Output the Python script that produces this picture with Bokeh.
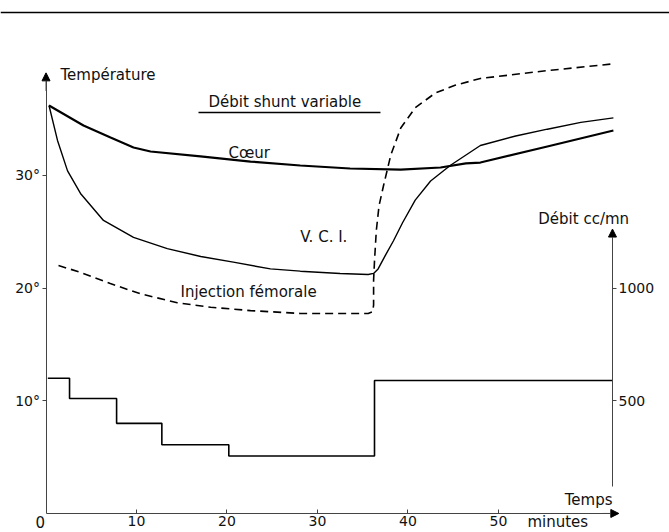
from bokeh.plotting import figure
from bokeh.models import LinearAxis, Range1d, FixedTicker, Arrow, NormalHead, Span
from bokeh.core.properties import value
from bokeh.embed import file_html
from bokeh.resources import INLINE

# ---- data (minutes, degrees) ----
coeur_x = [0.33, 4.14, 7.13, 9.67, 11.55, 17.07, 22.6, 28.1, 33.6, 39.2, 43.6, 46.4, 48.0, 55.4, 62.7]
coeur_y = [36.2, 34.43, 33.36, 32.48, 32.12, 31.68, 31.23, 30.88, 30.61, 30.52, 30.70, 31.06, 31.14, 32.56, 33.98]

vci_x = [0.33, 1.27, 2.38, 3.81, 6.35, 9.67, 13.4, 17.1, 20.7, 24.8, 28.1, 32.5, 35.6, 36.2, 36.7,
         37.5, 38.4, 39.4, 40.8, 42.5, 44.7, 48.0, 51.9, 55.4, 59.1, 62.7]
vci_y = [36.2, 33.1, 30.4, 28.4, 26.0, 24.5, 23.5, 22.8, 22.3, 21.7, 21.5, 21.3, 21.2, 21.3, 21.7,
         22.9, 24.2, 25.8, 27.8, 29.5, 30.9, 32.65, 33.5, 34.1, 34.7, 35.1]

inj_x = [1.38, 3.8, 7.1, 10.4, 14.5, 18.2, 22.6, 28.1, 35.6, 36.1, 36.2, 36.2, 36.3, 36.5, 36.8,
         37.3, 38.1, 39.2, 40.8, 43.0, 45.2, 48.0, 55.4, 62.7]
inj_y = [22.0, 21.4, 20.4, 19.5, 18.7, 18.3, 18.0, 17.75, 17.75, 17.9, 18.5, 20.7, 22.4, 25.1, 27.3,
         29.1, 31.8, 34.2, 36.0, 37.3, 38.0, 38.6, 39.3, 39.9]

# flow (cc/mn), step function
debit_edges = [0.2, 2.6, 7.8, 12.8, 20.2, 36.3, 62.6]
debit_levels = [600, 510, 400, 305, 255, 590]

temp_ticks = [10, 20, 30]
temp_labels = ["10°", "20°", "30°"]
time_ticks = [10, 20, 30, 40, 50]
debit_ticks = [500, 1000]

FONT_NAME = "DejaVu Sans"
FONT = value(FONT_NAME)
FS = "15px"
INK = "#111111"
AX = "#444444"

p = figure(width=669, height=532,
           x_range=Range1d(-5.03, 68.90), y_range=Range1d(-1.69, 45.52),
           output_backend="svg", toolbar_location=None,
           x_axis_location=None, y_axis_location=None,
           min_border=0, min_border_left=0, min_border_right=0,
           min_border_top=0, min_border_bottom=0,
           outline_line_color=None, background_fill_color="white",
           border_fill_color="white")
p.xgrid.visible = False
p.ygrid.visible = False
p.extra_y_ranges = {"debit": Range1d(-84.3, 2276.0)}

# ---- axes ----
left = LinearAxis(fixed_location=0, bounds=(0, 38.4),
                  ticker=FixedTicker(ticks=temp_ticks),
                  major_label_overrides=dict(zip(temp_ticks, temp_labels)))
bottom = LinearAxis(fixed_location=0, bounds=(0, 62.6),
                    ticker=FixedTicker(ticks=time_ticks))
right = LinearAxis(y_range_name="debit", fixed_location=62.6, bounds=(120, 1220),
                   ticker=FixedTicker(ticks=debit_ticks))
for ax in (left, bottom, right):
    ax.axis_line_color = AX
    ax.axis_line_width = 1
    ax.major_tick_line_color = AX
    ax.minor_tick_in = 0
    ax.minor_tick_out = 0
    ax.major_label_text_font = FONT_NAME
    ax.major_label_text_font_size = "14px"
    ax.major_label_text_color = INK
left.major_tick_in = 0
left.major_tick_out = 4
left.major_label_standoff = 2
bottom.major_tick_in = 4
bottom.major_tick_out = 0
bottom.major_label_standoff = 3
right.major_tick_in = 0
right.major_tick_out = 4
right.major_label_standoff = 2
p.add_layout(left, "left")
p.add_layout(bottom, "below")
p.add_layout(right, "right")

head = dict(size=8, fill_color="black", line_color="black")
p.add_layout(Arrow(end=NormalHead(**head), x_start=0, y_start=37.5, x_end=0, y_end=39.1,
                   line_color=AX, line_width=1))
p.add_layout(Arrow(end=NormalHead(**head), x_start=61.5, y_start=0, x_end=63.3, y_end=0,
                   line_color=AX, line_width=1))
p.add_layout(Arrow(end=NormalHead(**head), x_start=62.6, y_start=1180, x_end=62.6, y_end=1262,
                   y_range_name="debit", line_color=AX, line_width=1))

# rule at the top of the page
p.add_layout(Span(location=44.45, dimension="width", line_color="black", line_width=1.5))

# ---- curves ----
p.line(coeur_x, coeur_y, line_color="black", line_width=2.2)
p.line(vci_x, vci_y, line_color="black", line_width=1.4)
p.line(inj_x, inj_y, line_color="black", line_width=1.6, line_dash="8 5")
p.step(debit_edges, debit_levels + [debit_levels[-1]], mode="after",
       y_range_name="debit", line_color="black", line_width=1.6)

# ---- texts ----
p.text(x=[1.6, 17.96, 20.17, 28.1, 14.86, 54.4, 53.2, -1.16],
       y=[38.95, 36.47, 32.03, 24.5, 19.61, 26.09, -0.72, -0.72],
       text=["Température", "Débit shunt variable", "Cœur", "V. C. I.",
             "Injection fémorale", "Débit cc/mn", "minutes", "0"],
       text_font=FONT, text_font_size=FS, text_color=INK,
       text_baseline="middle", text_align="left")
p.text(x=[62.6], y=[1.15], text=["Temps"], text_font=FONT, text_font_size=FS,
       text_color=INK, text_baseline="middle", text_align="right")
p.segment(x0=[16.85], y0=[35.58], x1=[36.96], y1=[35.58], line_color="black", line_width=1.6)

open("out.html", "w").write(file_html(p, INLINE))
